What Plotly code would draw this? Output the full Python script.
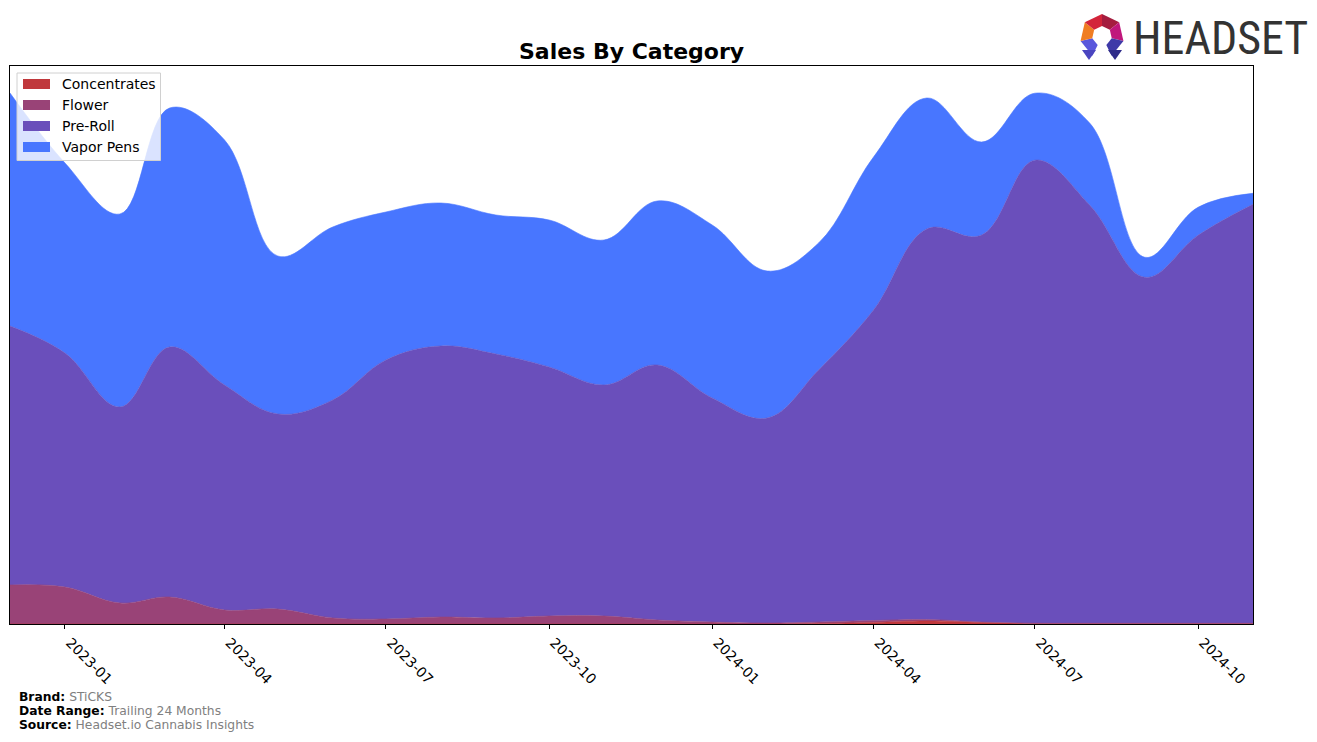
import math
import plotly.graph_objects as go

# ---- data (units are arbitrary sales units) ----
months = ["2022-12-01", "2023-01-01", "2023-02-01", "2023-03-01", "2023-04-01", "2023-05-01",
          "2023-06-01", "2023-07-01", "2023-08-01", "2023-09-01", "2023-10-01", "2023-11-01",
          "2023-12-01", "2024-01-01", "2024-02-01", "2024-03-01", "2024-04-01", "2024-05-01",
          "2024-06-01", "2024-07-01", "2024-08-01", "2024-09-01", "2024-10-01", "2024-11-01"]
concentrates = [0, 0, 0, 0, 0, 0, 0, 0, 0, 0, 0, 0,
                0, 0, 0, 0.5, 1.5, 3, 1.5, 0.5, 0.5, 0.5, 0.5, 0.5]
flower = [39, 37, 21, 27, 14, 15, 6, 5, 7, 6, 8, 8,
          4, 2, 1, 1.5, 2, 1.5, 0.5, 0.3, 0.2, 0.2, 0.2, 0.2]
pre_roll = [259, 234, 196, 250, 225, 195, 218, 259, 271, 264, 249, 231,
            255, 224, 205, 252, 310.5, 390.5, 387, 463, 418, 346, 388, 419]
vapor_pens = [233, 190, 193, 239, 245, 158, 173, 148, 143, 139, 147, 145,
              164, 173, 147, 127, 153, 131, 93, 67, 82, 20, 28, 11]

series_names = ["Concentrates", "Flower", "Pre-Roll", "Vapor Pens"]
series_values = [concentrates, flower, pre_roll, vapor_pens]
colors = ["#c0383c", "#994377", "#6a4fbb", "#4876ff"]

tick_vals = ["2023-01-01", "2023-04-01", "2023-07-01", "2023-10-01",
             "2024-01-01", "2024-04-01", "2024-07-01", "2024-10-01"]
tick_text = ["2023-01", "2023-04", "2023-07", "2023-10",
             "2024-01", "2024-04", "2024-07", "2024-10"]

W, H = 1317, 742
L, R, T, B = 10, 1253, 66, 624

fig = go.Figure()
for name, vals, col in zip(series_names, series_values, colors):
    fig.add_trace(go.Scatter(
        x=months, y=vals, name=name, stackgroup="one", mode="lines",
        line=dict(width=0.6, color=col, shape="spline", smoothing=1.1),
        fillcolor=col, showlegend=False, hoverinfo="x+y+name"))


def px(xp):
    return (xp - L) / (R - L)


def py(yp):
    return (B - yp) / (B - T)


def rect(x0, y0, x1, y1, fill, line=None, lw=0):
    return dict(type="rect", xref="paper", yref="paper",
                x0=px(x0), x1=px(x1), y0=py(y1), y1=py(y0),
                fillcolor=fill, line=dict(width=lw, color=line or fill), layer="above")


shapes = []
annotations = []

# ---- legend drawn like the reference (box + rectangular patches) ----
shapes.append(rect(17, 73, 160.5, 160.5, "rgba(255,255,255,0.8)", "#d0d0d0", 1))
leg_y = [84, 105, 126, 147]
for name, col, yc in zip(series_names, colors, leg_y):
    shapes.append(rect(23, yc - 5, 50, yc + 5, col))
    annotations.append(dict(text=name, x=px(60), y=py(yc), xref="paper", yref="paper",
                            showarrow=False, xanchor="left", yanchor="middle",
                            font=dict(family="DejaVu Sans", size=14, color="black")))

# ---- Headset logo (decorative) ----
cx, cy, ro, ri = 1102, 36, 22, 10
angs = [90, 38.6, -12.9, -64.3, -115.7, -167.1, 141.4]
seg_cols = {(0, 1): "#a51d3f", (1, 2): "#c0177c", (2, 3): "#3f3aa8",
            (4, 5): "#5a58dc", (5, 6): "#f07d22", (6, 0): "#d3243a"}
for (i, j), c in seg_cols.items():
    a1, a2 = math.radians(angs[i]), math.radians(angs[j])
    pts = [(cx + ro * math.cos(a1), cy - ro * math.sin(a1)),
           (cx + ro * math.cos(a2), cy - ro * math.sin(a2)),
           (cx + ri * math.cos(a2), cy - ri * math.sin(a2)),
           (cx + ri * math.cos(a1), cy - ri * math.sin(a1))]
    path = "M " + " L ".join(f"{px(a):.5f},{py(b):.5f}" for a, b in pts) + " Z"
    shapes.append(dict(type="path", path=path, xref="paper", yref="paper",
                       fillcolor=c, line=dict(width=0), layer="above"))
for (x0, x1, xt), c in [((1082, 1096, 1089), "#4a45c0"), ((1108, 1122, 1115), "#2f2c8a")]:
    path = (f"M {px(x0):.5f},{py(50):.5f} L {px(x1):.5f},{py(50):.5f} "
            f"L {px(xt):.5f},{py(60):.5f} Z")
    shapes.append(dict(type="path", path=path, xref="paper", yref="paper",
                       fillcolor=c, line=dict(width=0), layer="above"))

annotations += [
    dict(text="<b>Sales By Category</b>", x=0.5, xref="paper", y=py(51),
         yref="paper", showarrow=False, xanchor="center", yanchor="middle",
         font=dict(family="DejaVu Sans", size=22, color="black")),
    dict(text="HEADSET", x=px(1131), y=py(38), xref="paper", yref="paper",
         showarrow=False, xanchor="left", yanchor="middle",
         font=dict(family="Liberation Sans Narrow, Roboto Condensed, Liberation Sans", size=46,
                   color="#333333")),
]
footer = [("Brand:", "STiCKS", 697), ("Date Range:", "Trailing 24 Months", 711),
          ("Source:", "Headset.io Cannabis Insights", 725)]
for lab, val, yy in footer:
    annotations.append(dict(
        text=f"<b>{lab}</b> <span style='color:#808080'>{val}</span>",
        x=px(17), y=py(yy), xref="paper", yref="paper", showarrow=False,
        xanchor="left", yanchor="middle",
        font=dict(family="DejaVu Sans", size=12.3, color="black")))

fig.update_layout(
    width=W, height=H, autosize=False,
    margin=dict(l=L, r=W - R, t=T, b=H - B),
    paper_bgcolor="white", plot_bgcolor="white",
    showlegend=False,
    xaxis=dict(range=[months[0], months[-1]], tickvals=tick_vals, ticktext=tick_text,
               tickangle=45, ticks="outside", ticklen=4, tickcolor="black",
               ticklabelshift=5,
               showline=True, linecolor="black", linewidth=1, mirror=True,
               showgrid=False, zeroline=False,
               tickfont=dict(family="DejaVu Sans", size=14, color="black")),
    yaxis=dict(range=[0, 558], showticklabels=False, ticks="",
               showline=True, linecolor="black", linewidth=1, mirror=True,
               showgrid=False, zeroline=False),
    shapes=shapes, annotations=annotations,
)

fig.write_html("out.html")
